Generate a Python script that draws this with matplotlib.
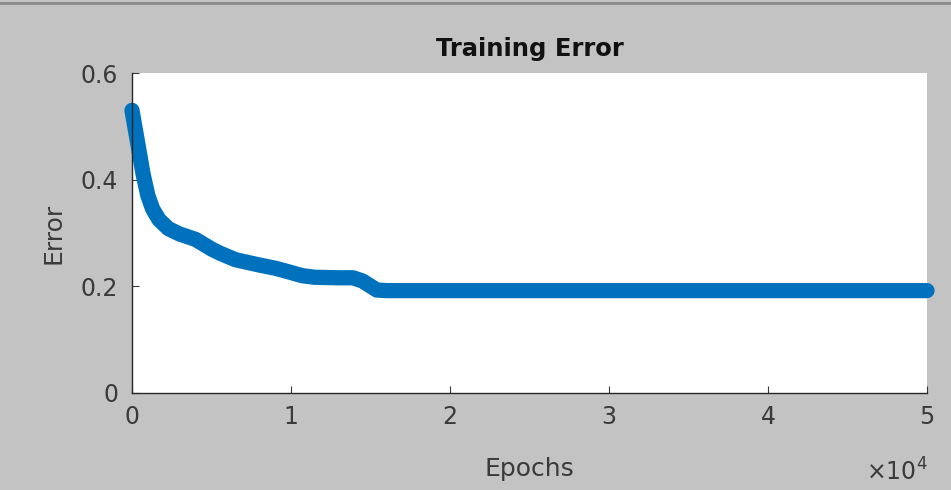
import matplotlib
matplotlib.use("Agg")
import matplotlib.pyplot as plt

epochs = [0, 350, 700, 1000, 1300, 1700, 2300, 3000, 4000, 5000, 5540, 6500, 8000, 9000, 9750, 10700, 11500, 13000, 13900, 14500, 15400, 16000, 20000, 30000, 40000, 50000]
errors = [0.53, 0.47, 0.41, 0.37, 0.345, 0.325, 0.308, 0.298, 0.288, 0.27, 0.262, 0.25, 0.24, 0.234, 0.228, 0.220, 0.217, 0.216, 0.216, 0.21, 0.193, 0.192, 0.192, 0.192, 0.192, 0.192]

xticks = [0, 10000, 20000, 30000, 40000, 50000]
xticklabels = ["0", "1", "2", "3", "4", "5"]
yticks = [0, 0.2, 0.4, 0.6]
yticklabels = ["0", "0.2", "0.4", "0.6"]

plt.rcParams['font.family'] = ['DejaVu Sans']
bg = '#c3c3c3'
fig = plt.figure(figsize=(9.51, 4.90), dpi=100, facecolor=bg)
ax = fig.add_axes([132/951, 1-393/490, (927-132)/951, (393-73)/490])
ax.set_facecolor('white')
ax.plot(epochs, errors, color='#0072BD', linewidth=11, solid_capstyle='round',
        solid_joinstyle='round', clip_on=False)
ax.set_xlim(0, 50000)
ax.set_ylim(0, 0.6)
ax.set_xticks(xticks)
ax.set_xticklabels(xticklabels)
ax.set_yticks(yticks)
ax.set_yticklabels(yticklabels)
for s in ['top', 'right']:
    ax.spines[s].set_visible(False)
for s in ['left', 'bottom']:
    ax.spines[s].set_color('#262626')
    ax.spines[s].set_linewidth(1.0)
ax.tick_params(direction='in', length=5, colors='#3a3a3a', labelsize=17)
ax.tick_params(axis='x', pad=9)
ax.tick_params(axis='y', pad=10)
ax.set_title('Training Error', fontsize=17.5, fontweight='bold', color='#111111', pad=12)
ax.set_xlabel('Epochs', fontsize=18, color='#3a3a3a', labelpad=20)
ax.set_ylabel('Error', fontsize=18, color='#3a3a3a', labelpad=11)
fig.text(928/951, 1-472/490, r'$\times\mathregular{10^4}$', fontsize=17, color='#3a3a3a', ha='right', va='center')
fig.add_artist(plt.Line2D([0, 1], [1-3/490, 1-3/490], color='#8a8a8a', linewidth=2, transform=fig.transFigure))
fig.savefig('out.png', dpi=100, facecolor=bg)
